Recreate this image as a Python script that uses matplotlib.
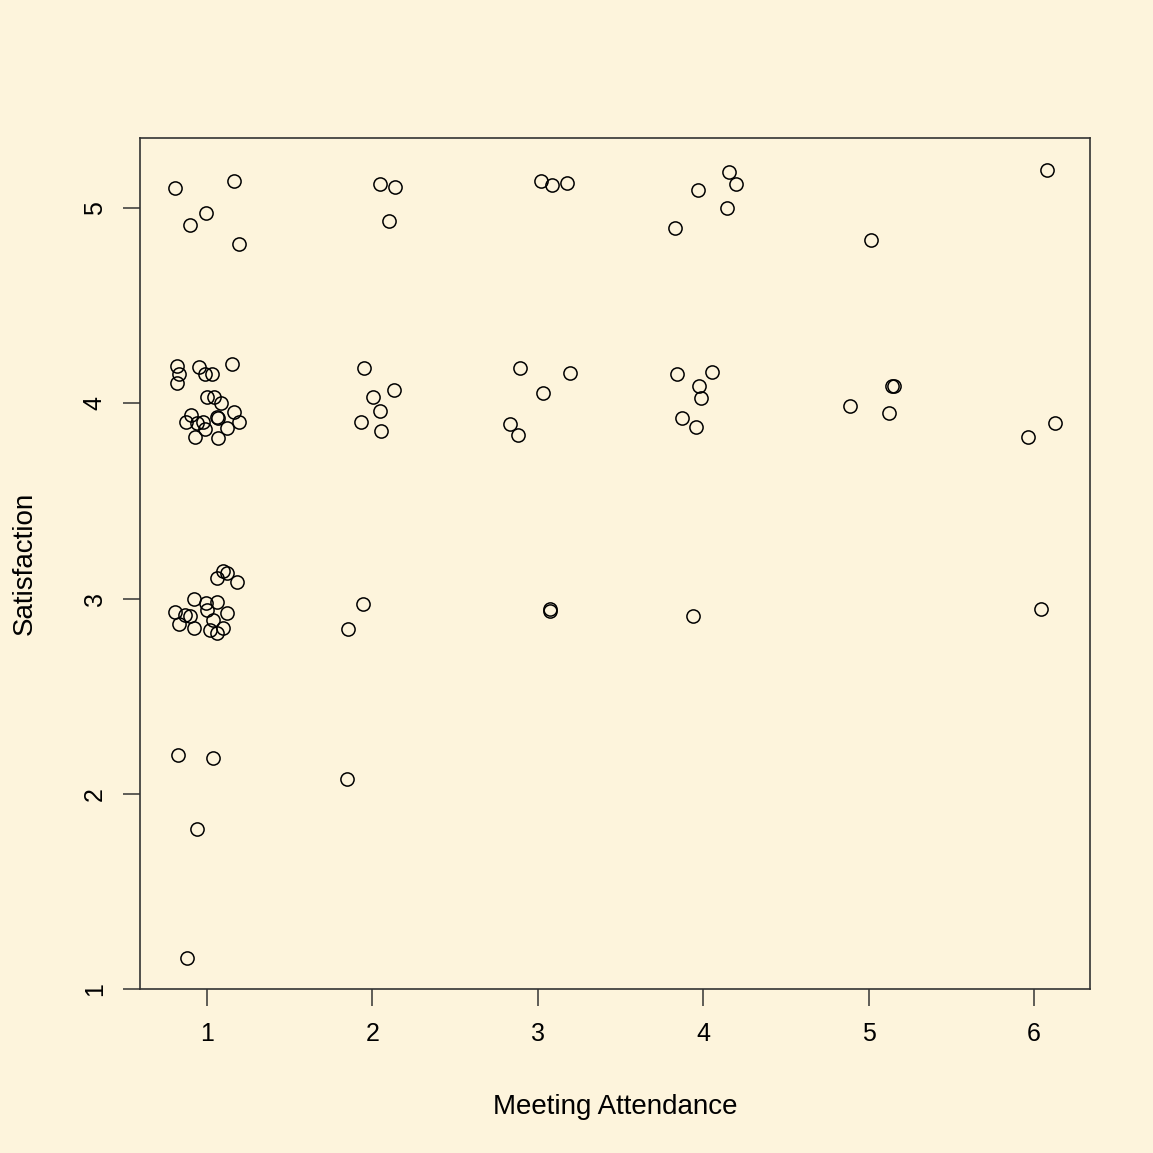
import matplotlib.pyplot as plt

plt.rcParams['font.family'] = ['Liberation Sans', 'DejaVu Sans']

# jittered attendance / satisfaction values
attendance = [
    0.807, 1.163, 0.994, 0.897, 1.193,
    0.819, 0.831, 0.819, 0.952, 0.988, 1.030, 1.151, 1.000, 1.042, 1.085, 1.067,
    1.060, 1.163, 1.193, 1.121, 1.067, 0.903, 0.873, 0.940, 0.976, 0.927, 0.988,
    1.060, 1.097, 1.121, 1.181, 0.921, 0.994, 1.060, 1.121, 0.807, 0.831, 0.867,
    0.897, 0.921, 1.000, 1.036, 1.018, 1.060, 1.097,
    0.825, 1.036, 0.940, 0.879,
    2.046, 2.137, 2.100, 1.949, 2.004, 2.131, 2.046, 1.931, 2.052, 1.943, 1.852, 1.846,
    3.019, 3.086, 3.177, 2.892, 3.195, 3.031, 2.832, 2.880, 3.074, 3.074,
    4.156, 4.198, 3.969, 4.144, 3.829, 3.841, 4.053, 3.975, 3.987, 3.872, 3.956, 3.938,
    5.015, 4.888, 5.123, 5.141, 5.153,
    6.079, 5.964, 6.127, 6.042,
]
satisfaction = [
    5.102, 5.138, 4.974, 4.913, 4.816,
    4.191, 4.150, 4.104, 4.185, 4.150, 4.150, 4.201, 4.032, 4.032, 4.001, 3.924,
    3.929, 3.955, 3.904, 3.873, 3.822, 3.940, 3.904, 3.899, 3.904, 3.827, 3.868,
    3.105, 3.140, 3.130, 3.084, 2.997, 2.976, 2.982, 2.925, 2.930, 2.869, 2.915,
    2.910, 2.848, 2.941, 2.889, 2.838, 2.823, 2.848,
    2.198, 2.182, 1.819, 1.158,
    5.123, 5.108, 4.933, 4.180, 4.032, 4.068, 3.960, 3.904, 3.858, 2.971, 2.843, 2.075,
    5.138, 5.118, 5.128, 4.180, 4.155, 4.052, 3.893, 3.837, 2.946, 2.935,
    5.184, 5.123, 5.092, 5.000, 4.898, 4.150, 4.160, 4.088, 4.027, 3.924, 3.878, 2.910,
    4.836, 3.986, 3.950, 4.088, 4.088,
    5.195, 3.827, 3.899, 2.946,
]
x_ticks = [1, 2, 3, 4, 5, 6]
y_ticks = [1, 2, 3, 4, 5]

bg = '#fdf4dc'
fig = plt.figure(figsize=(11.53, 11.53), dpi=100, facecolor=bg)
ax = fig.add_axes([0.1214, 0.1422, 0.9454 - 0.1214, 0.8803 - 0.1422])
ax.set_facecolor(bg)

ax.plot(attendance, satisfaction, 'o', mfc='none', mec='black', ms=9.5, mew=1.1)

ax.set_xlim(0.595, 6.339)
ax.set_ylim(1.0, 5.359)
ax.set_xticks(x_ticks)
ax.set_yticks(y_ticks)
ax.tick_params(length=12, width=1.1, labelsize=18, pad=12, direction='out',
               color='#333333')
for lbl in ax.get_yticklabels():
    lbl.set_rotation(90)
    lbl.set_va('center')
for s in ax.spines.values():
    s.set_linewidth(1.2)
    s.set_color('#333333')

ax.set_xlabel('Meeting Attendance', fontsize=20, labelpad=34)
ax.set_ylabel('Satisfaction', fontsize=20, labelpad=32)

plt.savefig('out.png', facecolor=bg)
